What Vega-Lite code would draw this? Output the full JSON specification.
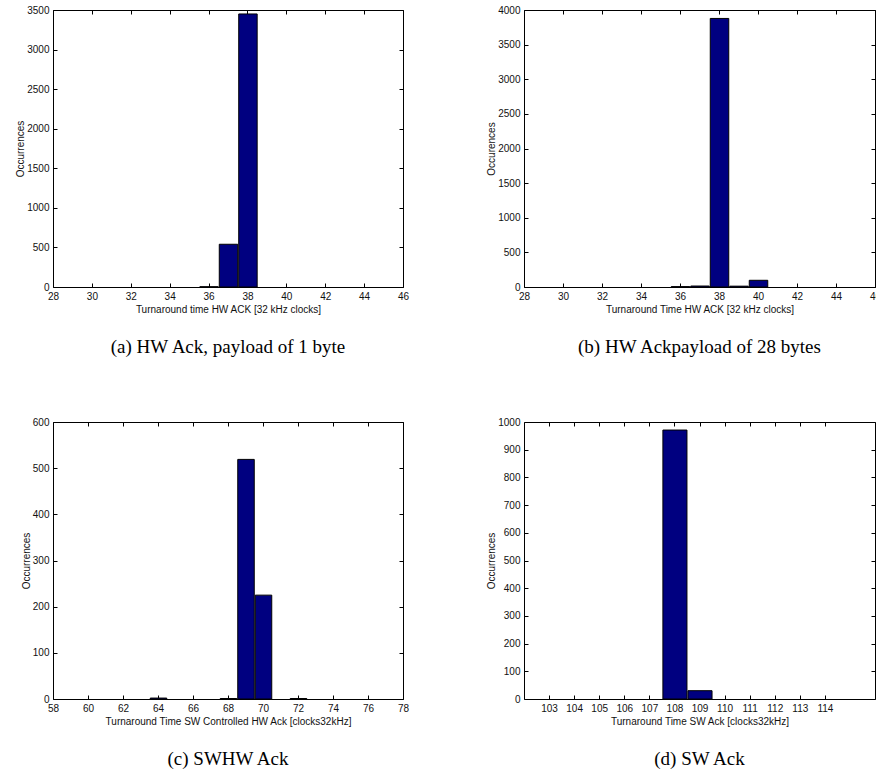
{
  "$schema": "https://vega.github.io/schema/vega-lite/v6.json",
  "padding": {"left": 15, "top": 4, "right": 2, "bottom": 2},
  "background": "white",
  "config": {
    "view": {"stroke": "black", "strokeWidth": 1},
    "axis": {
      "grid": false, "domain": false, "tickColor": "black", "tickSize": -4, "tickWidth": 1,
      "labelFont": "Liberation Sans", "labelFontSize": 10, "labelColor": "#111", "labelPadding": 8,
      "titleFont": "Liberation Sans", "titleFontSize": 10, "titleFontWeight": "normal", "titleColor": "#111",
      "labelFlush": false, "labelOverlap": false, "format": "d"
    },
    "axisX": {"titlePadding": 3},
    "axisY": {"titlePadding": 1},
    "title": {"font": "Liberation Serif", "fontSize": 19, "fontWeight": "normal", "color": "black", "orient": "bottom", "offset": 24, "anchor": "middle"},
    "concat": {"spacing": 76}
  },
  "datasets": {
    "a": [
      {"start": 35.5, "end": 36.5, "count": 3},
      {"start": 36.5, "end": 37.5, "count": 540},
      {"start": 37.5, "end": 38.5, "count": 3450}
    ],
    "b": [
      {"start": 35.5, "end": 36.5, "count": 5},
      {"start": 36.5, "end": 37.5, "count": 14},
      {"start": 37.5, "end": 38.5, "count": 3878},
      {"start": 38.5, "end": 39.5, "count": 12},
      {"start": 39.5, "end": 40.5, "count": 97}
    ],
    "c": [
      {"start": 63.5, "end": 64.5, "count": 2},
      {"start": 67.5, "end": 68.5, "count": 1},
      {"start": 68.5, "end": 69.5, "count": 519},
      {"start": 69.5, "end": 70.5, "count": 225},
      {"start": 71.5, "end": 72.5, "count": 1}
    ],
    "d": [
      {"start": 107.5, "end": 108.5, "count": 971},
      {"start": 108.5, "end": 109.5, "count": 30}
    ]
  },
  "vconcat": [
    {
      "hconcat": [
        {
          "width": 350, "height": 277,
          "title": {"text": "(a) HW Ack, payload of 1 byte"},
          "data": {"name": "a"},
          "layer": [
            {
              "mark": {"type": "bar", "fill": "#000080", "stroke": "black", "strokeWidth": 1},
              "encoding": {
                "x": {"field": "start", "type": "quantitative", "bin": {"binned": true, "step": 1}, "scale": {"domain": [28, 46], "nice": false, "zero": false},
                      "axis": {"values": [28, 30, 32, 34, 36, 38, 40, 42, 44, 46], "title": "Turnaround time HW ACK [32 kHz clocks]"}},
                "x2": {"field": "end"},
                "y": {"field": "count", "type": "quantitative", "scale": {"domain": [0, 3500], "nice": false},
                      "axis": {"values": [0, 500, 1000, 1500, 2000, 2500, 3000, 3500], "title": "Occurrences"}}
              }
            },
            {
              "mark": {"type": "bar", "opacity": 0},
              "encoding": {
                "x": {"field": "start", "type": "quantitative", "bin": {"binned": true, "step": 1}, "axis": {"orient": "top", "labels": false, "title": null, "values": [28, 30, 32, 34, 36, 38, 40, 42, 44, 46]}},
                "x2": {"field": "end"},
                "y": {"field": "count", "type": "quantitative", "axis": {"orient": "right", "labels": false, "title": null, "values": [0, 500, 1000, 1500, 2000, 2500, 3000, 3500]}}
              }
            }
          ],
          "resolve": {"axis": {"x": "independent", "y": "independent"}}
        },
        {
          "width": 351, "height": 277,
          "title": {"text": "(b) HW Ackpayload of 28 bytes"},
          "data": {"name": "b"},
          "layer": [
            {
              "mark": {"type": "bar", "fill": "#000080", "stroke": "black", "strokeWidth": 1},
              "encoding": {
                "x": {"field": "start", "type": "quantitative", "bin": {"binned": true, "step": 1}, "scale": {"domain": [28, 46], "nice": false, "zero": false},
                      "axis": {"values": [28, 30, 32, 34, 36, 38, 40, 42, 44, 46], "title": "Turnaround Time HW ACK [32 kHz clocks]"}},
                "x2": {"field": "end"},
                "y": {"field": "count", "type": "quantitative", "scale": {"domain": [0, 4000], "nice": false},
                      "axis": {"values": [0, 500, 1000, 1500, 2000, 2500, 3000, 3500, 4000], "title": "Occurences"}}
              }
            },
            {
              "mark": {"type": "bar", "opacity": 0},
              "encoding": {
                "x": {"field": "start", "type": "quantitative", "bin": {"binned": true, "step": 1}, "axis": {"orient": "top", "labels": false, "title": null, "values": [28, 30, 32, 34, 36, 38, 40, 42, 44, 46]}},
                "x2": {"field": "end"},
                "y": {"field": "count", "type": "quantitative", "axis": {"orient": "right", "labels": false, "title": null, "values": [0, 500, 1000, 1500, 2000, 2500, 3000, 3500, 4000]}}
              }
            }
          ],
          "resolve": {"axis": {"x": "independent", "y": "independent"}}
        }
      ]
    },
    {
      "hconcat": [
        {
          "width": 350, "height": 277,
          "title": {"text": "(c)  SWHW Ack"},
          "data": {"name": "c"},
          "layer": [
            {
              "mark": {"type": "bar", "fill": "#000080", "stroke": "black", "strokeWidth": 1},
              "encoding": {
                "x": {"field": "start", "type": "quantitative", "bin": {"binned": true, "step": 1}, "scale": {"domain": [58, 78], "nice": false, "zero": false},
                      "axis": {"values": [58, 60, 62, 64, 66, 68, 70, 72, 74, 76, 78], "title": "Turnaround Time SW Controlled HW Ack [clocks32kHz]"}},
                "x2": {"field": "end"},
                "y": {"field": "count", "type": "quantitative", "scale": {"domain": [0, 600], "nice": false},
                      "axis": {"values": [0, 100, 200, 300, 400, 500, 600], "title": "Occurrences"}}
              }
            },
            {
              "mark": {"type": "bar", "opacity": 0},
              "encoding": {
                "x": {"field": "start", "type": "quantitative", "bin": {"binned": true, "step": 1}, "axis": {"orient": "top", "labels": false, "title": null, "values": [58, 60, 62, 64, 66, 68, 70, 72, 74, 76, 78]}},
                "x2": {"field": "end"},
                "y": {"field": "count", "type": "quantitative", "axis": {"orient": "right", "labels": false, "title": null, "values": [0, 100, 200, 300, 400, 500, 600]}}
              }
            }
          ],
          "resolve": {"axis": {"x": "independent", "y": "independent"}}
        },
        {
          "width": 351, "height": 277,
          "title": {"text": "(d) SW Ack"},
          "data": {"name": "d"},
          "layer": [
            {
              "mark": {"type": "bar", "fill": "#000080", "stroke": "black", "strokeWidth": 1},
              "encoding": {
                "x": {"field": "start", "type": "quantitative", "bin": {"binned": true, "step": 1}, "scale": {"domain": [102, 116], "nice": false, "zero": false},
                      "axis": {"values": [103, 104, 105, 106, 107, 108, 109, 110, 111, 112, 113, 114], "title": "Turnaround Time SW Ack [clocks32kHz]"}},
                "x2": {"field": "end"},
                "y": {"field": "count", "type": "quantitative", "scale": {"domain": [0, 1000], "nice": false},
                      "axis": {"values": [0, 100, 200, 300, 400, 500, 600, 700, 800, 900, 1000], "title": "Occurrences"}}
              }
            },
            {
              "mark": {"type": "bar", "opacity": 0},
              "encoding": {
                "x": {"field": "start", "type": "quantitative", "bin": {"binned": true, "step": 1}, "axis": {"orient": "top", "labels": false, "title": null, "values": [103, 104, 105, 106, 107, 108, 109, 110, 111, 112, 113, 114]}},
                "x2": {"field": "end"},
                "y": {"field": "count", "type": "quantitative", "axis": {"orient": "right", "labels": false, "title": null, "values": [0, 100, 200, 300, 400, 500, 600, 700, 800, 900, 1000]}}
              }
            }
          ],
          "resolve": {"axis": {"x": "independent", "y": "independent"}}
        }
      ]
    }
  ],
  "spacing": 58
}
